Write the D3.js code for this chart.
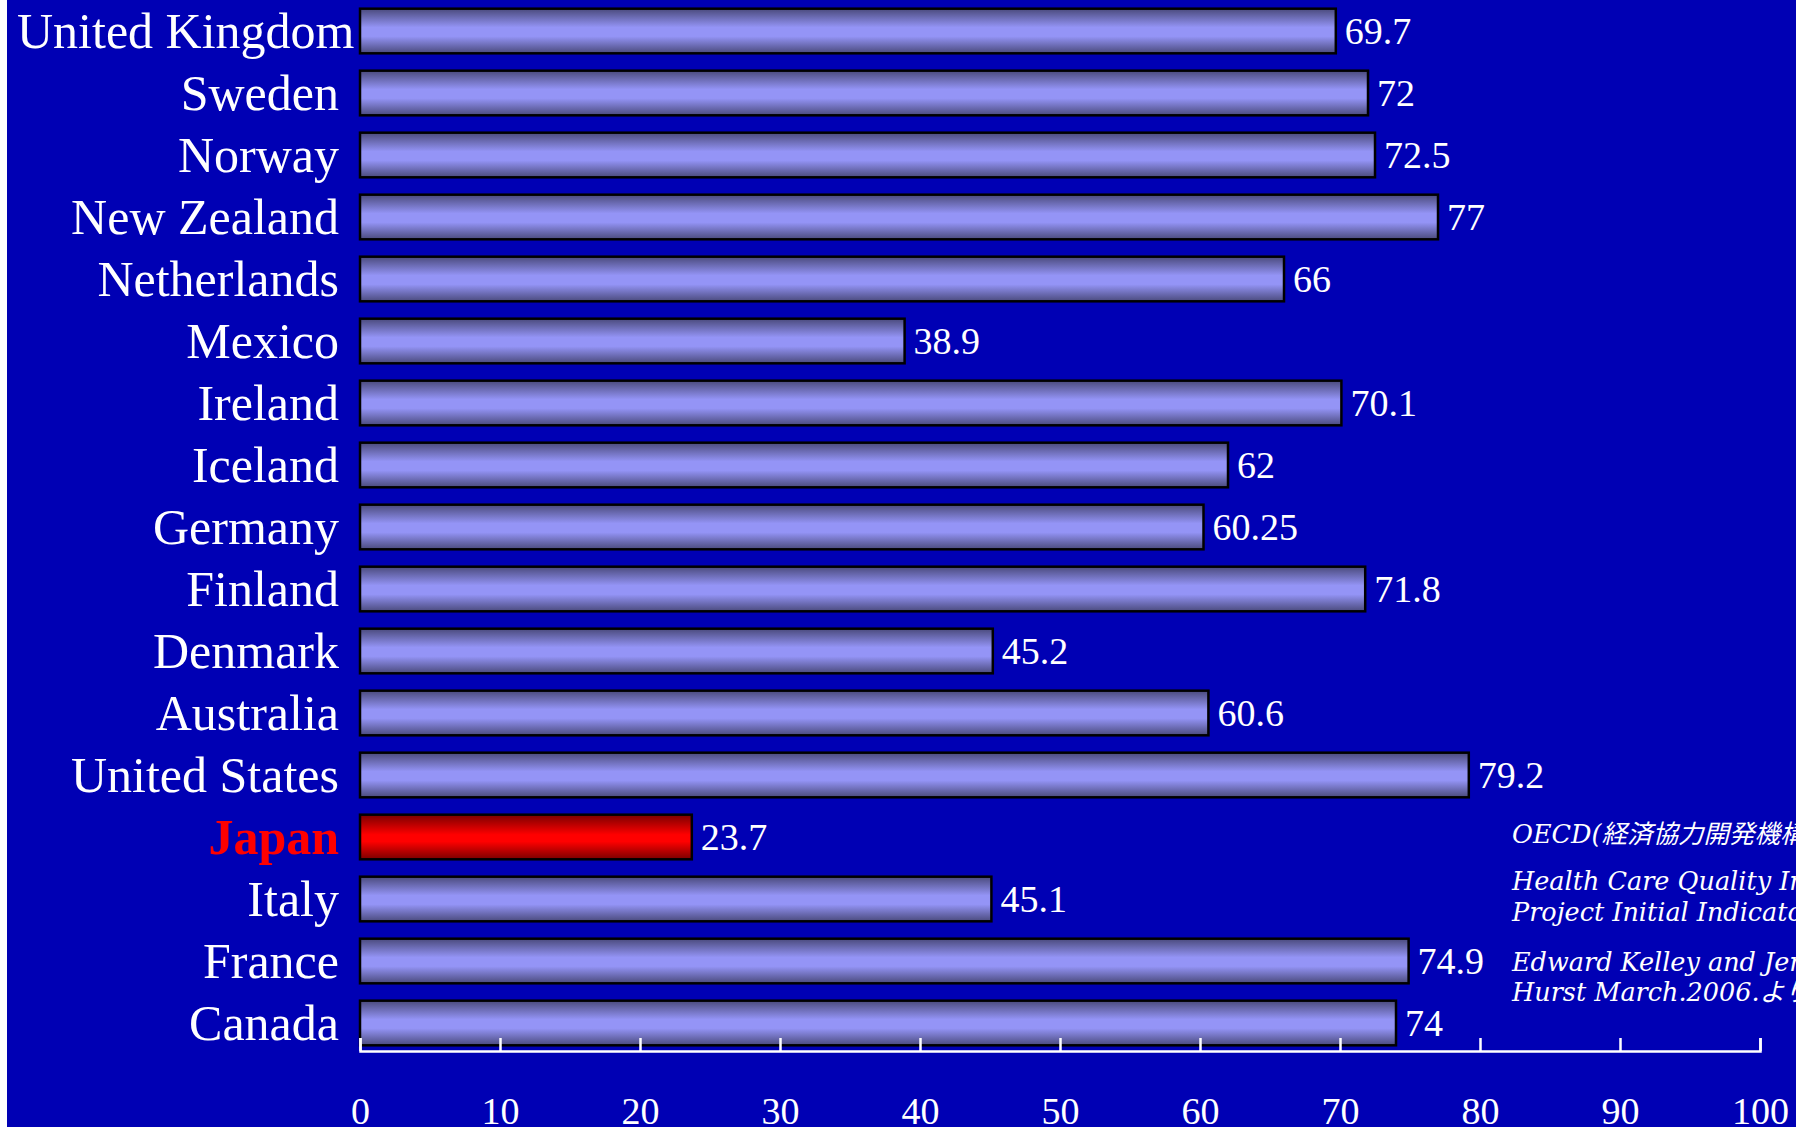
<!DOCTYPE html>
<meta charset="utf-8">
<html>
  <head>
    <script src="https://d3js.org/d3.v7.min.js"></script>
    <style>
      body { margin: 0; background: #fff; overflow: hidden; }
      svg { display: block; }
    </style>
  </head>
  <body>
    <div id="chart"></div>
    <script>
      // countries from top to bottom, as in the slide
      var countries = ["United Kingdom", "Sweden", "Norway", "New Zealand", "Netherlands", "Mexico",
                       "Ireland", "Iceland", "Germany", "Finland", "Denmark", "Australia",
                       "United States", "Japan", "Italy", "France", "Canada"];
      var values = [69.7, 72, 72.5, 77, 66, 38.9, 70.1, 62, 60.25, 71.8, 45.2, 60.6, 79.2, 23.7, 45.1, 74.9, 74];
      var valueLabels = ["69.7", "72", "72.5", "77", "66", "38.9", "70.1", "62", "60.25", "71.8",
                         "45.2", "60.6", "79.2", "23.7", "45.1", "74.9", "74"];
      var highlight = "Japan";
      var xTicks = [0, 10, 20, 30, 40, 50, 60, 70, 80, 90, 100];
      var sourceLines = ["OECD(経済協力開発機構)", "Health Care Quality Indicators",
                         "Project Initial Indicators Report", "Edward Kelley and Jeremy",
                         "Hurst March.2006.より"];

      var width = 1796, height = 1127;

      var svg = d3.select("#chart").append("svg")
          .attr("width", width)
          .attr("height", height);

      // blue slide background, thin white strip on the left
      svg.append("rect")
          .attr("x", 7).attr("y", 0)
          .attr("width", width - 7).attr("height", height)
          .attr("fill", "#0000b4");

      var defs = svg.append("defs");
      var gBlue = defs.append("linearGradient").attr("id", "gBlue")
          .attr("x1", 0).attr("y1", 0).attr("x2", 0).attr("y2", 1);
      gBlue.append("stop").attr("offset", "0%").attr("stop-color", "#4a4a7c");
      gBlue.append("stop").attr("offset", "42%").attr("stop-color", "#9494f6");
      gBlue.append("stop").attr("offset", "62%").attr("stop-color", "#9494f6");
      gBlue.append("stop").attr("offset", "100%").attr("stop-color", "#4a4a7c");

      var gRed = defs.append("linearGradient").attr("id", "gRed")
          .attr("x1", 0).attr("y1", 0).attr("x2", 0).attr("y2", 1);
      gRed.append("stop").attr("offset", "0%").attr("stop-color", "#7a0000");
      gRed.append("stop").attr("offset", "45%").attr("stop-color", "#ff0000");
      gRed.append("stop").attr("offset", "60%").attr("stop-color", "#ff0000");
      gRed.append("stop").attr("offset", "100%").attr("stop-color", "#7a0000");

      var x = d3.scaleLinear().domain([0, 100]).range([360, 1760]);
      var y = d3.scaleBand().domain(countries).range([0, 1054])
          .paddingInner(0.28).paddingOuter(0.14);
      var axisY = 1051;

      var data = countries.map(function(c, i) { return {name: c, value: values[i], label: valueLabels[i]}; });

      // bars
      svg.append("g").selectAll("rect")
        .data(data)
        .enter().append("rect")
          .attr("x", x(0))
          .attr("y", function(d) { return y(d.name); })
          .attr("width", function(d) { return x(d.value) - x(0); })
          .attr("height", y.bandwidth())
          .attr("fill", function(d) { return d.name == highlight ? "url(#gRed)" : "url(#gBlue)"; })
          .attr("stroke", "#000")
          .attr("stroke-width", 2.5);

      // value labels
      svg.append("g").selectAll("text")
        .data(data)
        .enter().append("text")
          .attr("x", function(d) { return x(d.value) + 9; })
          .attr("y", function(d) { return y(d.name) + y.bandwidth() / 2; })
          .attr("dy", "0.35em")
          .attr("font-family", "'Liberation Serif', serif")
          .attr("font-size", 38)
          .attr("fill", "#fff")
          .text(function(d) { return d.label; });

      // country labels, right aligned but never into the white strip
      var labels = svg.append("g").selectAll("text")
        .data(data)
        .enter().append("text")
          .attr("y", function(d) { return y(d.name) + y.bandwidth() / 2; })
          .attr("dy", "0.33em")
          .attr("text-anchor", "end")
          .attr("font-family", "'Liberation Serif', serif")
          .attr("font-size", 50)
          .attr("font-weight", function(d) { return d.name == highlight ? "bold" : "normal"; })
          .attr("fill", function(d) { return d.name == highlight ? "#ff0000" : "#fff"; })
          .text(function(d) { return d.name; });
      labels.attr("x", function(d) {
        var w = this.getComputedTextLength();
        return Math.max(339, 17 + w);
      });

      // x axis with ticks pointing up
      var axis = svg.append("g")
          .attr("transform", "translate(0," + axisY + ")")
          .call(d3.axisBottom(x).tickValues(xTicks).tickSizeInner(-13).tickSizeOuter(-13));
      axis.select(".domain").attr("stroke", "#fff").attr("stroke-width", 2.5);
      axis.selectAll(".tick line").attr("stroke", "#fff").attr("stroke-width", 2.5);
      axis.selectAll(".tick text")
          .attr("y", 73)
          .attr("dy", "0")
          .attr("fill", "#fff")
          .attr("font-family", "'Liberation Serif', serif")
          .attr("font-size", 38);

      // source note (runs off the right edge like the slide)
      var srcY = [843, 890, 921, 971, 1001];
      svg.append("g").selectAll("text")
        .data(sourceLines)
        .enter().append("text")
          .attr("x", 1512)
          .attr("y", function(d, i) { return srcY[i]; })
          .attr("font-family", "'DejaVu Serif', 'Noto Sans CJK JP', serif")
          .attr("font-style", "italic")
          .attr("font-size", 25.5)
          .attr("fill", "#fff")
          .text(function(d) { return d; });
    </script>
  </body>
</html>
